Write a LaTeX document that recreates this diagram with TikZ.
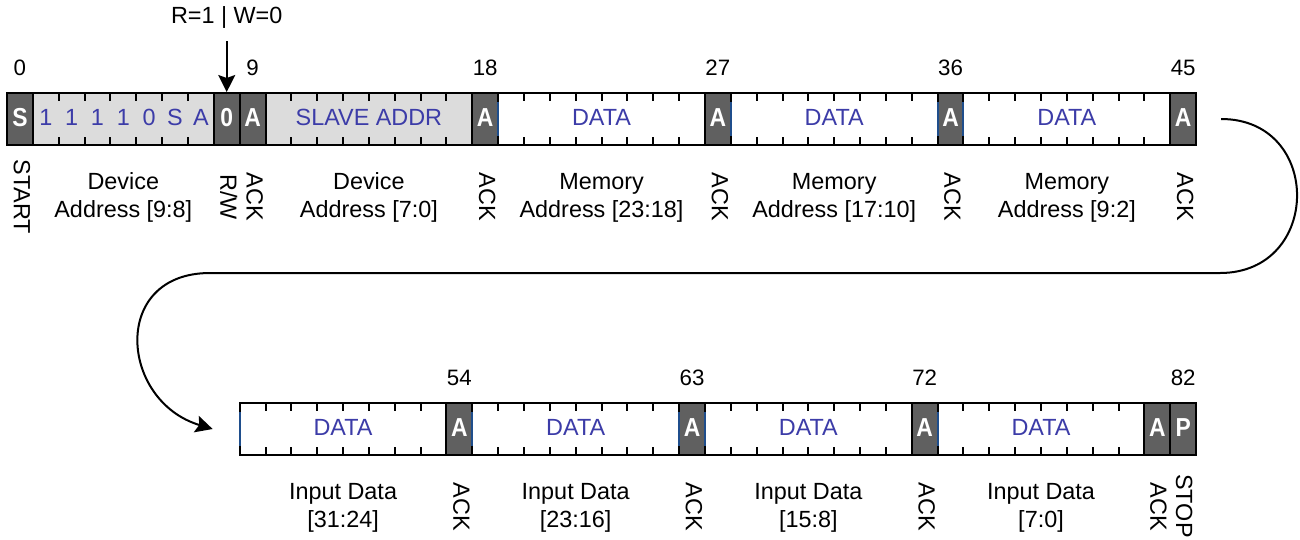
\documentclass[tikz,border=0pt]{standalone}
\usepackage{fontspec}
\setmainfont{Liberation Sans}
\usepackage{graphicx}
\usetikzlibrary{arrows.meta}
\definecolor{darkcell}{HTML}{606060}
\definecolor{lightcell}{HTML}{DCDCDC}
\definecolor{bluetxt}{HTML}{3C3CA8}
\definecolor{edgeblue}{HTML}{1F4E8C}
\def\cellw{25.85}
\def\ax{7}
\def\bx{239.65}
\tikzset{
  txt/.style={font=\fontsize{23.4}{27.5}\selectfont, inner sep=0pt, text=black},
  numtxt/.style={font=\fontsize{22.3}{25}\selectfont, inner sep=0pt, anchor=base},
  rottxt/.style={txt, rotate=-90, anchor=center},
  desc/.style={txt, align=center, anchor=base},
  grpbox/.style={draw=black, line width=2pt, minimum height=52pt, inner sep=0pt, font=\fontsize{23.4}{23.4}\selectfont, text=bluetxt, text height=16pt, text depth=3pt},
  bitbox/.style={fill=darkcell, draw=black, line width=2pt, minimum width=\cellw pt, minimum height=52pt, inner sep=0pt, text=white, font=\fontsize{26}{26}\selectfont\bfseries, text height=19pt, text depth=5pt},
  bluebit/.style={inner sep=0pt, font=\fontsize{23.4}{23.4}\selectfont, text=bluetxt, text height=16pt, text depth=3pt},
  tickmark/.style={draw=black, line width=2pt},
  edgemark/.style={draw=edgeblue, line width=2pt},
  flow/.style={draw=black, line width=2pt, -{Stealth[length=17pt,width=17pt,inset=3pt]}},
}
\newcommand{\nb}[1]{\scalebox{0.88}[1]{#1}}
\begin{document}
\begin{tikzpicture}[x=1pt,y=-1pt]
\useasboundingbox (0,0) rectangle (1300,539);
% ---- top row groups
\node[grpbox, fill=lightcell, minimum width={7*\cellw pt}] (g1) at ({\ax+4.5*\cellw},119) {};
\node[grpbox, fill=lightcell, minimum width={8*\cellw pt}] (g2) at ({\ax+14*\cellw},119) {SLAVE ADDR};
\node[grpbox, fill=white, minimum width={8*\cellw pt}] (g3) at ({\ax+23*\cellw},119) {DATA};
\node[grpbox, fill=white, minimum width={8*\cellw pt}] (g4) at ({\ax+32*\cellw},119) {DATA};
\node[grpbox, fill=white, minimum width={8*\cellw pt}] (g5) at ({\ax+41*\cellw},119) {DATA};
% ---- bottom row groups
\node[grpbox, fill=white, minimum width={8*\cellw pt}] (h1) at ({\bx+4*\cellw},429) {DATA};
\node[grpbox, fill=white, minimum width={8*\cellw pt}] (h2) at ({\bx+13*\cellw},429) {DATA};
\node[grpbox, fill=white, minimum width={8*\cellw pt}] (h3) at ({\bx+22*\cellw},429) {DATA};
\node[grpbox, fill=white, minimum width={8*\cellw pt}] (h4) at ({\bx+31*\cellw},429) {DATA};
% ---- ticks
\foreach \i in {2,...,7} {
  \draw[tickmark] ({\ax+\i*\cellw},93) -- ++(0,8);
  \draw[tickmark] ({\ax+\i*\cellw},145) -- ++(0,-8);
}
\foreach \s in {10,19,28,37} {
  \foreach \k in {1,...,7} {
    \draw[tickmark] ({\ax+(\s+\k)*\cellw},93) -- ++(0,8);
    \draw[tickmark] ({\ax+(\s+\k)*\cellw},145) -- ++(0,-8);
  }
}
\foreach \s in {0,9,18,27} {
  \foreach \k in {1,...,7} {
    \draw[tickmark] ({\bx+(\s+\k)*\cellw},403) -- ++(0,8);
    \draw[tickmark] ({\bx+(\s+\k)*\cellw},455) -- ++(0,-8);
  }
}
% ---- dark bit cells
\node[bitbox] (c0) at ({\ax+0.5*\cellw},119) {\nb{S}};
\node[bitbox] (c8) at ({\ax+8.5*\cellw},119) {\nb{0}};
\node[bitbox] (c9) at ({\ax+9.5*\cellw},119) {\nb{A}};
\node[bitbox] (c18) at ({\ax+18.5*\cellw},119) {\nb{A}};
\node[bitbox] (c27) at ({\ax+27.5*\cellw},119) {\nb{A}};
\node[bitbox] (c36) at ({\ax+36.5*\cellw},119) {\nb{A}};
\node[bitbox] (c45) at ({\ax+45.5*\cellw},119) {\nb{A}};
\node[bitbox] (d8) at ({\bx+8.5*\cellw},429) {\nb{A}};
\node[bitbox] (d17) at ({\bx+17.5*\cellw},429) {\nb{A}};
\node[bitbox] (d26) at ({\bx+26.5*\cellw},429) {\nb{A}};
\node[bitbox] (d35) at ({\bx+35.5*\cellw},429) {\nb{A}};
\node[bitbox] (d36) at ({\bx+36.5*\cellw},429) {\nb{P}};
% ---- blue bit values
\foreach \i/\t in {1/1,2/1,3/1,4/1,5/0,6/S,7/A}
  \node[bluebit] (bb\i) at ({\ax+(\i+0.5)*\cellw},119) {\t};
% ---- blue edge marks
\foreach \i in {19,28,36,37}
  \draw[edgemark] ({\ax+\i*\cellw},102) -- ({\ax+\i*\cellw},136);
\foreach \i in {0,9,17,18,27}
  \draw[edgemark] ({\bx+\i*\cellw},412) -- ({\bx+\i*\cellw},446);
% ---- bit numbers
\foreach \i/\t in {0/0,9/9,18/18,27/27,36/36,45/45}
  \node[numtxt] (n\i) at ({\ax+(\i+0.5)*\cellw},75) {\t};
\foreach \i/\t in {8/54,17/63,26/72,36/82}
  \node[numtxt] (m\i) at ({\bx+(\i+0.5)*\cellw},385) {\t};
% ---- R/W arrow
\node[txt, anchor=base] (rw) at ({\ax+8.5*\cellw},23) {R=1 | W=0};
\coordinate (rwfrom) at ({\ax+8.5*\cellw},41);
\draw[flow] (rwfrom) -- (c8.north);
% ---- labels top
\node[rottxt] (lstart) at ({\ax+0.5*\cellw+2},197) {START};
\node[desc] (ldev1) at ({\ax+4.5*\cellw},217) {Device\\Address [9:8]};
\node[rottxt] (lrw) at ({\ax+8.5*\cellw+2},197) {R/W};
\node[rottxt] (lack9) at ({\ax+9.5*\cellw+2},197) {ACK};
\node[desc] (ldev2) at ({\ax+14*\cellw},217) {Device\\Address [7:0]};
\node[rottxt] (lack18) at ({\ax+18.5*\cellw+2},197) {ACK};
\node[desc] (lmem1) at ({\ax+23*\cellw},217) {Memory\\Address [23:18]};
\node[rottxt] (lack27) at ({\ax+27.5*\cellw+2},197) {ACK};
\node[desc] (lmem2) at ({\ax+32*\cellw},217) {Memory\\Address [17:10]};
\node[rottxt] (lack36) at ({\ax+36.5*\cellw+2},197) {ACK};
\node[desc] (lmem3) at ({\ax+41*\cellw},217) {Memory\\Address [9:2]};
\node[rottxt] (lack45) at ({\ax+45.5*\cellw+2},197) {ACK};
% ---- labels bottom
\node[desc] (lin1) at ({\bx+4*\cellw},527) {Input Data\\{[31:24]}};
\node[rottxt] (lack54) at ({\bx+8.5*\cellw+2},507) {ACK};
\node[desc] (lin2) at ({\bx+13*\cellw},527) {Input Data\\{[23:16]}};
\node[rottxt] (lack63) at ({\bx+17.5*\cellw+2},507) {ACK};
\node[desc] (lin3) at ({\bx+22*\cellw},527) {Input Data\\{[15:8]}};
\node[rottxt] (lack72) at ({\bx+26.5*\cellw+2},507) {ACK};
\node[desc] (lin4) at ({\bx+31*\cellw},527) {Input Data\\{[7:0]}};
\node[rottxt] (lack81) at ({\bx+35.5*\cellw+1},507) {ACK};
\node[rottxt] (lstop) at ({\bx+36.5*\cellw+1},506) {STOP};
% ---- wrap-around connector
\coordinate (cs) at ([xshift=24pt]c45.east);
\coordinate (cr) at (1220,273);
\coordinate (cl) at (210,273);
\coordinate (ce) at ([xshift=-26pt]h1.west);
\draw[flow] (cs) .. controls +(102,0) and +(102,0) .. (cr) -- (cl) .. controls +(-100,0) and +(-93,-28) .. (ce);
\end{tikzpicture}
\end{document}
